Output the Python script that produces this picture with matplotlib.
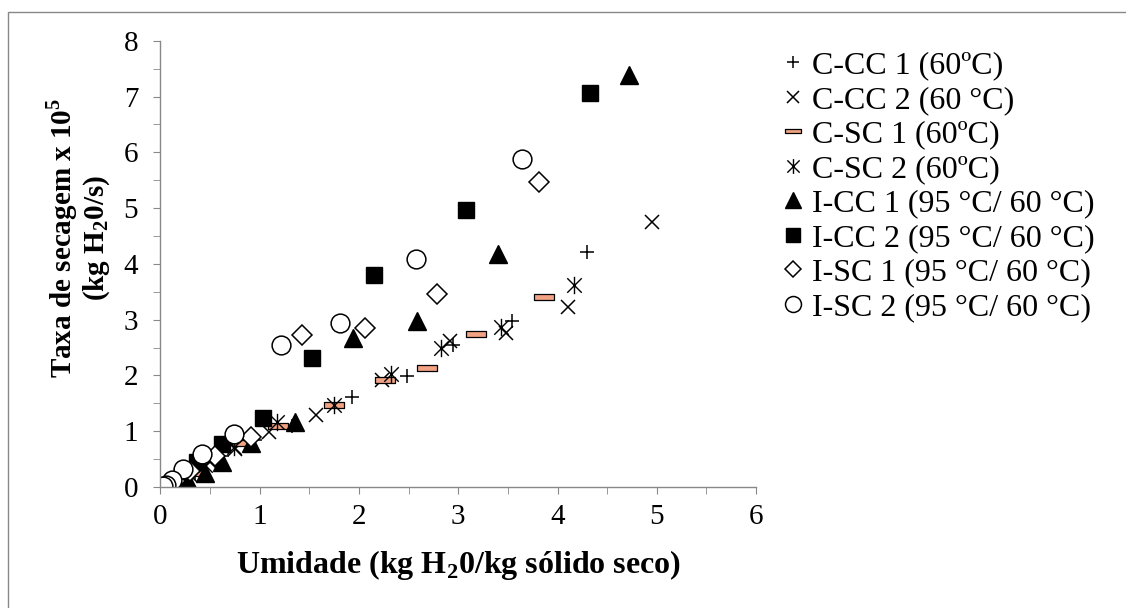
import numpy as np
import matplotlib.pyplot as plt
from matplotlib.path import Path
from matplotlib.patches import Rectangle

plt.rcParams['font.family'] = ['Liberation Serif', 'DejaVu Serif']
plt.rcParams['mathtext.fontset'] = 'custom'
plt.rcParams['mathtext.rm'] = 'Liberation Serif'
plt.rcParams['mathtext.bf'] = 'Liberation Serif:bold'

# series (umidade, taxa de secagem x 1e5)
ccc1_x = [4.30, 3.54, 2.95, 2.48, 1.93, 1.33, 0.95, 0.62, 0.35, 0.20, 0.10]
ccc1_y = [4.22, 2.98, 2.55, 1.99, 1.61, 1.10, 0.85, 0.55, 0.25, 0.10, 0.03]

ccc2_x = [4.95, 4.11, 3.48, 2.92, 2.23, 1.57, 1.09, 0.75, 0.50, 0.30, 0.15]
ccc2_y = [4.75, 3.23, 2.76, 2.62, 1.92, 1.29, 0.99, 0.68, 0.45, 0.22, 0.06]

csc1_x = [3.86, 3.18, 2.68, 2.26, 1.75, 1.18, 0.82, 0.52, 0.35, 0.20, 0.10]
csc1_y = [3.41, 2.74, 2.13, 1.91, 1.47, 1.10, 0.78, 0.50, 0.26, 0.10, 0.03]

csc2_x = [4.17, 3.43, 2.83, 2.32, 1.75, 1.17, 0.74, 0.45, 0.25, 0.12]
csc2_y = [3.62, 2.86, 2.49, 2.03, 1.47, 1.17, 0.72, 0.40, 0.18, 0.05]

icc1_x = [4.72, 3.40, 2.58, 1.94, 1.36, 0.91, 0.62, 0.45, 0.28, 0.15, 0.07]
icc1_y = [7.39, 4.18, 2.97, 2.67, 1.17, 0.78, 0.45, 0.25, 0.10, 0.03, 0.01]

icc2_x = [4.33, 3.08, 2.15, 1.53, 1.03, 0.62, 0.37, 0.22, 0.12, 0.06]
icc2_y = [7.06, 4.96, 3.80, 2.32, 1.24, 0.77, 0.44, 0.20, 0.07, 0.02]

isc1_x = [3.81, 2.79, 2.06, 1.43, 0.91, 0.55, 0.30, 0.15, 0.07]
isc1_y = [5.47, 3.46, 2.85, 2.73, 0.90, 0.55, 0.28, 0.10, 0.03]

isc2_x = [3.64, 2.57, 1.81, 1.21, 0.74, 0.42, 0.23, 0.12, 0.06, 0.03]
isc2_y = [5.88, 4.09, 2.94, 2.55, 0.95, 0.60, 0.32, 0.12, 0.04, 0.01]

labels = ['C-CC 1 (60ºC)', 'C-CC 2 (60 °C)', 'C-SC 1 (60ºC)', 'C-SC 2 (60ºC)',
          'I-CC 1 (95 °C/ 60 °C)', 'I-CC 2 (95 °C/ 60 °C)',
          'I-SC 1 (95 °C/ 60 °C)', 'I-SC 2 (95 °C/ 60 °C)']

# excel style markers
M, L, C = Path.MOVETO, Path.LINETO, Path.CLOSEPOLY
star = Path([(-1, -1), (1, 1), (-1, 1), (1, -1), (0, -1.2), (0, 1.2)],
            [M, L, M, L, M, L])
dash = Path([(-1, -0.28), (1, -0.28), (1, 0.28), (-1, 0.28), (-1, -0.28)],
            [M, L, L, L, C])

fig = plt.figure(figsize=(11.26, 6.08), dpi=100)
ax = fig.add_axes([0.1425, 0.199, 0.529, 0.734])

ax.plot(ccc1_x, ccc1_y, ls='none', marker='+', ms=10.5, mew=1.1, color='black', label=labels[0])
ax.plot(ccc2_x, ccc2_y, ls='none', marker='x', ms=9.5, mew=1.1, color='black', label=labels[1])
ax.plot(csc1_x, csc1_y, ls='none', marker=dash, ms=14, mew=0.9, mfc='#F2A383', mec='black', label=labels[2])
ax.plot(csc2_x, csc2_y, ls='none', marker=star, ms=12.5, mew=1.0, color='black', label=labels[3])
ax.plot(icc1_x, icc1_y, ls='none', marker='^', ms=13, color='black', label=labels[4])
ax.plot(icc2_x, icc2_y, ls='none', marker='s', ms=12, color='black', label=labels[5])
ax.plot(isc1_x, isc1_y, ls='none', marker='D', ms=10, mew=1.1, mfc='white', mec='black', label=labels[6])
ax.plot(isc2_x, isc2_y, ls='none', marker='o', ms=13.5, mew=1.1, mfc='white', mec='black', label=labels[7])

ax.set_xlim(0, 6)
ax.set_ylim(0, 8)
ax.set_xticks(np.arange(0, 7, 1))
ax.set_yticks(np.arange(0, 9, 1))
ax.set_xticks(np.arange(0.5, 6, 1), minor=True)
ax.set_yticks(np.arange(0.5, 8, 1), minor=True)
ax.tick_params(which='both', direction='out', color='#888888', labelsize=21, length=5)
ax.tick_params(axis='x', which='major', pad=7)
ax.tick_params(axis='y', which='major', pad=11)
for s in ['top', 'right']:
    ax.spines[s].set_visible(False)
for s in ['left', 'bottom']:
    ax.spines[s].set_color('#888888')
    ax.spines[s].set_linewidth(1.0)

ax.set_xlabel(r'Umidade (kg H$_\mathbf{2}$0/kg sólido seco)', fontsize=23, fontweight='bold', labelpad=13)
ax.set_ylabel('Taxa de secagem x 10$^\\mathbf{5}$\n(kg H$_\\mathbf{2}$0/s)', fontsize=21,
              fontweight='bold', linespacing=1.05)
ax.yaxis.set_label_coords(-0.082, 0.558)

fig.legend(loc='upper left', bbox_to_anchor=(0.684, 0.937), frameon=False, fontsize=23,
           handlelength=0.6, handletextpad=0.3, labelspacing=0.16, markerscale=0.85,
           borderaxespad=0)

# grey frame of the chart area
fig.patches.append(Rectangle((8 / 1126, -0.1), 1.2, 1.1 - 12 / 608, transform=fig.transFigure,
                             fill=False, edgecolor='#888888', linewidth=1.0))

fig.savefig('out.png', dpi=100)
